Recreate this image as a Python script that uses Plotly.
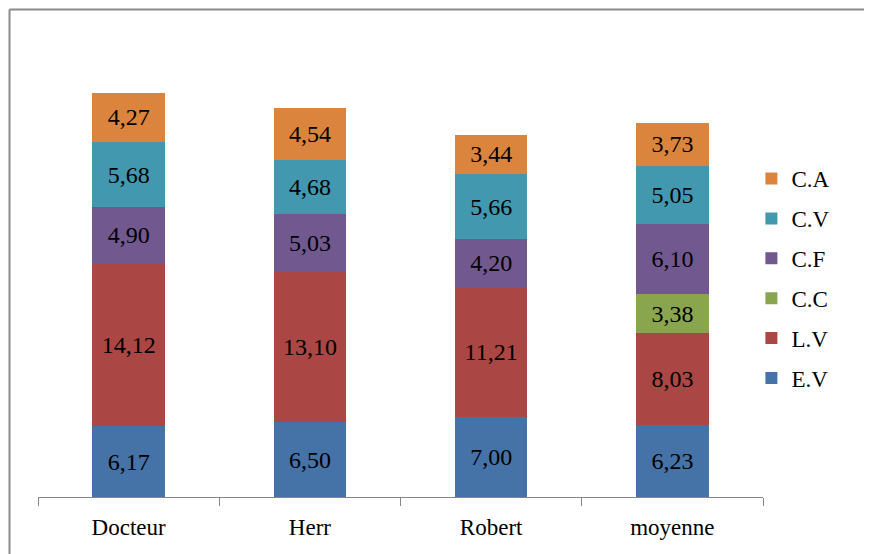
import plotly.graph_objects as go

categories = ["Docteur", "Herr", "Robert", "moyenne"]
series_names = ["E.V", "L.V", "C.C", "C.F", "C.V", "C.A"]
ev = [6.17, 6.50, 7.00, 6.23]
lv = [14.12, 13.10, 11.21, 8.03]
cc = [None, None, None, 3.38]
cf = [4.90, 5.03, 4.20, 6.10]
cv = [5.68, 4.68, 5.66, 5.05]
ca = [4.27, 4.54, 3.44, 3.73]
series_values = [ev, lv, cc, cf, cv, ca]
colors = ["#4572A7", "#AA4643", "#89A54E", "#71588F", "#4198AF", "#DB843D"]

FONT = "'Liberation Serif', 'Times New Roman', Times, 'DejaVu Serif', serif"

def fmt(v):
    return "" if v is None else f"{v:.2f}".replace(".", ",")

fig = go.Figure()
for i, (name, vals, col) in enumerate(zip(series_names, series_values, colors)):
    fig.add_trace(go.Bar(
        x=categories, y=vals, name=name, legendgroup=name,
        legendrank=100 - i,
        marker=dict(color=col, line=dict(width=0)),
        text=[fmt(v) for v in vals], textposition="inside",
        insidetextanchor="middle", textangle=0, constraintext="none",
        textfont=dict(family=FONT, size=24, color="black"),
        hoverinfo="skip",
    ))

fig.update_layout(
    barmode="stack",
    bargap=0.6,
    width=864, height=546,
    margin=dict(l=30, r=109, t=29, b=57),
    paper_bgcolor="white", plot_bgcolor="white",
    font=dict(family=FONT, size=24, color="black"),
    showlegend=True,
    legend=dict(
        traceorder="grouped", tracegroupgap=7,
        x=0.984, xanchor="left", y=0.739, yanchor="top",
        font=dict(family=FONT, size=23, color="black"),
        bgcolor="rgba(0,0,0,0)", itemwidth=30,
    ),
    xaxis=dict(
        showline=True, linecolor="#868686", linewidth=1,
        ticks="outside", tickson="boundaries", ticklen=8, tickcolor="#868686",
        tickfont=dict(family=FONT, size=23, color="black"),
        ticklabelstandoff=9,
        showgrid=False, zeroline=False, range=[-0.5, 3.5],
    ),
    yaxis=dict(visible=False, range=[0, 40], showgrid=False, zeroline=False),
    shapes=[
        dict(type="line", xref="paper", yref="paper",
             x0=(9.5 - 38) / 725, x1=(1000 - 38) / 725,
             y0=(497 - 9.5) / 460, y1=(497 - 9.5) / 460,
             line=dict(color="#8a8a8a", width=2), layer="below"),
        dict(type="line", xref="paper", yref="paper",
             x0=(9.5 - 38) / 725, x1=(9.5 - 38) / 725,
             y0=(497 - 700) / 460, y1=(497 - 9.5) / 460,
             line=dict(color="#8a8a8a", width=2), layer="below"),
    ],
)

fig.write_html("out.html")
